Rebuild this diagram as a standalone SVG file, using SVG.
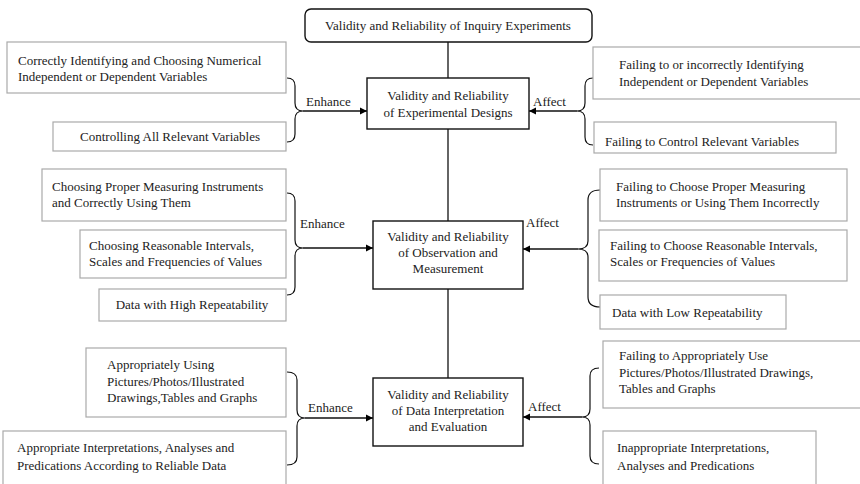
<svg xmlns="http://www.w3.org/2000/svg" width="860" height="484" viewBox="0 0 860 484">
<defs>
<marker id="arr" markerWidth="8" markerHeight="8" refX="7" refY="4" orient="auto" markerUnits="userSpaceOnUse">
<path d="M0,0.5 L7,4 L0,7.5 Z" fill="#000"/>
</marker>
<style>
text{font-family:"Liberation Serif","Times New Roman",serif;font-size:13px;fill:#222}
.g{fill:#fff;stroke:#aaa;stroke-width:1.2}
.m{fill:#fff;stroke:#111;stroke-width:1.4}
.c{text-anchor:middle}
.br{fill:none;stroke:#111;stroke-width:1.2}
.ln{fill:none;stroke:#111;stroke-width:1.3}
</style>
</defs>
<rect width="860" height="484" fill="#fff"/>
<g id="connectors">
<line class="ln" x1="448" y1="42" x2="448" y2="78"/>
<line class="ln" x1="448" y1="129" x2="448" y2="221"/>
<line class="ln" x1="448" y1="289" x2="448" y2="378"/>
<path class="br" d="M287,78 Q295,78 295,86 L295,103 Q295,111 303,111 Q295,111 295,119 L295,134 Q295,142 287,142"/>
<line class="ln" x1="303" y1="111" x2="367" y2="111" marker-end="url(#arr)"/>
<path class="br" d="M593,78 Q585,78 585,86 L585,103 Q585,111 577,111 Q585,111 585,119 L585,137 Q585,145 593,145"/>
<line class="ln" x1="577" y1="111" x2="529" y2="111" marker-end="url(#arr)"/>
<path class="br" d="M287,193 Q295,193 295,201 L295,240 Q295,248 303,248 Q295,248 295,256 L295,287 Q295,295 287,295"/>
<line class="ln" x1="303" y1="248" x2="373" y2="248" marker-end="url(#arr)"/>
<path class="br" d="M600,190 Q588,190 588,200 L588,241 Q588,249 578,249 Q588,249 588,257 L588,297 Q588,307 600,307"/>
<line class="ln" x1="578" y1="249" x2="523" y2="249" marker-end="url(#arr)"/>
<path class="br" d="M287,372 Q297,372 297,380 L297,410 Q297,418 305,418 Q297,418 297,426 L297,457 Q297,465 287,465"/>
<line class="ln" x1="305" y1="418" x2="373" y2="418" marker-end="url(#arr)"/>
<path class="br" d="M599,368 Q590,368 590,376 L590,409 Q590,417 582,417 Q590,417 590,425 L590,456 Q590,464 599,464"/>
<line class="ln" x1="582" y1="417" x2="523" y2="417" marker-end="url(#arr)"/>
<text x="306" y="106">Enhance</text>
<text x="533" y="106">Affect</text>
<text x="300" y="228">Enhance</text>
<text x="526" y="227">Affect</text>
<text x="308" y="412">Enhance</text>
<text x="528" y="411">Affect</text>
</g>
<g id="top">
<rect x="305" y="9" width="287" height="33" rx="6" class="m"/>
<text x="448" y="30" class="c">Validity and Reliability of Inquiry Experiments</text>
</g>
<g id="center1">
<rect x="367" y="78" width="162" height="51" class="m"/>
<text x="448" y="100" class="c">Validity and Reliability</text>
<text x="448" y="117" class="c">of Experimental Designs</text>
</g>
<g id="center2">
<rect x="373" y="221" width="150" height="68" class="m"/>
<text x="448" y="241" class="c">Validity and Reliability</text>
<text x="448" y="257" class="c">of Observation and</text>
<text x="448" y="273" class="c">Measurement</text>
</g>
<g id="center3">
<rect x="373" y="378" width="150" height="68" class="m"/>
<text x="448" y="399" class="c">Validity and Reliability</text>
<text x="448" y="415" class="c">of Data Interpretation</text>
<text x="448" y="431" class="c">and Evaluation</text>
</g>
<g id="l1">
<rect x="7" y="42" width="279" height="51" class="g"/>
<text x="18" y="65">Correctly Identifying and Choosing Numerical</text>
<text x="18" y="81">Independent or Dependent Variables</text>
</g>
<g id="l2">
<rect x="53" y="122" width="233" height="29" class="g"/>
<text x="170" y="141" class="c">Controlling All Relevant Variables</text>
</g>
<g id="r1">
<rect x="593" y="47" width="270" height="52" class="g"/>
<text x="619" y="69">Failing to or incorrectly Identifying</text>
<text x="619" y="86">Independent or Dependent Variables</text>
</g>
<g id="r2">
<rect x="594" y="122" width="242" height="31" class="g"/>
<text x="605" y="146">Failing to Control Relevant Variables</text>
</g>
<g id="l3">
<rect x="42" y="169" width="244" height="52" class="g"/>
<text x="52" y="191">Choosing Proper Measuring Instruments</text>
<text x="52" y="207">and Correctly Using Them</text>
</g>
<g id="l4">
<rect x="80" y="230" width="206" height="48" class="g"/>
<text x="89" y="250">Choosing Reasonable Intervals,</text>
<text x="89" y="266">Scales and Frequencies of Values</text>
</g>
<g id="l5">
<rect x="99" y="289" width="187" height="32" class="g"/>
<text x="192" y="309" class="c">Data with High Repeatability</text>
</g>
<g id="r3">
<rect x="600" y="169" width="247" height="52" class="g"/>
<text x="616" y="191">Failing to Choose Proper Measuring</text>
<text x="616" y="207">Instruments or Using Them Incorrectly</text>
</g>
<g id="r4">
<rect x="599" y="230" width="248" height="51" class="g"/>
<text x="610" y="250">Failing to Choose Reasonable Intervals,</text>
<text x="610" y="266">Scales or Frequencies of Values</text>
</g>
<g id="r5">
<rect x="600" y="295" width="186" height="34" class="g"/>
<text x="612" y="317">Data with Low Repeatability</text>
</g>
<g id="l6">
<rect x="86" y="348" width="200" height="69" class="g"/>
<text x="107" y="369">Appropriately Using</text>
<text x="107" y="386">Pictures/Photos/Illustrated</text>
<text x="107" y="402">Drawings,Tables and Graphs</text>
</g>
<g id="l7">
<rect x="3" y="431" width="283" height="60" class="g"/>
<text x="17" y="452">Appropriate Interpretations, Analyses and</text>
<text x="17" y="470">Predications According to Reliable Data</text>
</g>
<g id="r6">
<rect x="603" y="341" width="262" height="67" class="g"/>
<text x="619" y="360">Failing to Appropriately Use</text>
<text x="619" y="377">Pictures/Photos/Illustrated Drawings,</text>
<text x="619" y="393">Tables and Graphs</text>
</g>
<g id="r7">
<rect x="603" y="431" width="213" height="60" class="g"/>
<text x="617" y="452">Inappropriate Interpretations,</text>
<text x="617" y="470">Analyses and Predications</text>
</g>
</svg>
